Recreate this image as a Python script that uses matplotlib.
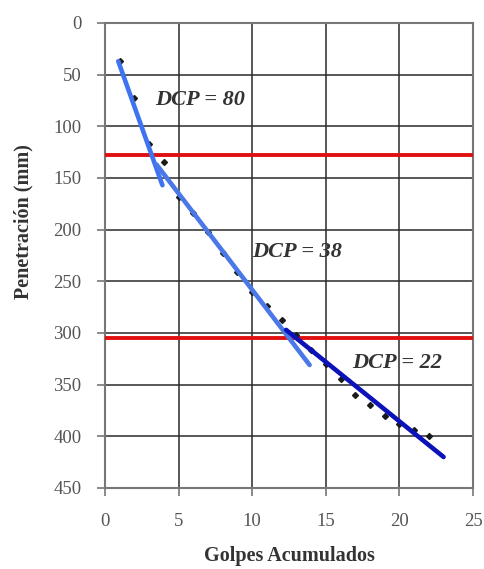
import matplotlib.pyplot as plt
import numpy as np

# DCP test data: accumulated blows vs penetration (mm)
golpes = [1, 2, 3, 4, 5, 6, 7, 8, 9, 10, 11, 12, 13, 14, 15, 16, 17, 18, 19, 20, 21, 22]
penetracion = [37, 73, 117, 135, 168, 184, 202, 223, 241, 260, 274, 287, 302, 316,
               330, 345, 360, 370, 380, 388, 394, 400]

# fitted segments (end points)
fit1_x = [0.9, 3.9]
fit1_y = [37, 157]
fit2_x = [3.5, 13.9]
fit2_y = [137, 331]
fit3_x = [12.3, 23.0]
fit3_y = [297, 420]

# layer boundaries
limites = [128, 305]

labels = ["DCP = 80", "DCP = 38", "DCP = 22"]
label_x = [3.4, 10.0, 16.8]
label_y = [75, 222, 329]

plt.rcParams['font.family'] = ['Liberation Serif', 'DejaVu Serif']

fig = plt.figure(figsize=(4.85, 5.69), dpi=100)
ax = fig.add_axes([0.2165, 0.1424, 0.7588, 0.8172])

ax.set_xlim(0, 25)
ax.set_ylim(450, 0)
ax.set_xticks(np.arange(0, 26, 5))
ax.set_yticks(np.arange(0, 451, 50))
ax.grid(True, color='#2a2a2a', linewidth=1.1)
ax.set_axisbelow(True)

for y in limites:
    ax.axhline(y, color='#E01010', linewidth=2.8, zorder=3)

ax.plot(golpes, penetracion, linestyle='none', marker='D', markersize=3,
        color='#1a1a1a', zorder=4)
ax.plot(fit1_x, fit1_y, color='#3F74F0', linewidth=3.3, solid_capstyle='round', zorder=5)
ax.plot(fit2_x, fit2_y, color='#4A78E8', linewidth=3.3, solid_capstyle='round', zorder=5)
ax.plot(fit3_x, fit3_y, color='#0A12B8', linewidth=3.3, solid_capstyle='round', zorder=5)

for t, x, y in zip(labels, label_x, label_y):
    ax.text(x, y, t, fontsize=16, fontweight='bold', fontstyle='italic',
            color='#333333', ha='left', va='center', zorder=6)

for s in ax.spines.values():
    s.set_color('#777777')
    s.set_linewidth(1.5)

ax.tick_params(axis='both', labelsize=13.5, colors='#777777', labelcolor='#555555',
               length=6, width=1.2)
ax.tick_params(axis='x', pad=12)
ax.tick_params(axis='y', pad=11)

ax.set_xlabel('Golpes Acumulados', fontsize=14.5, fontweight='bold', color='#333333')
ax.set_ylabel('Penetración (mm)', fontsize=14.5, fontweight='bold', color='#333333')
ax.xaxis.set_label_coords(0.5, -0.125)
ax.yaxis.set_label_coords(-0.195, 0.572)

fig.savefig('out.png', dpi=100)
